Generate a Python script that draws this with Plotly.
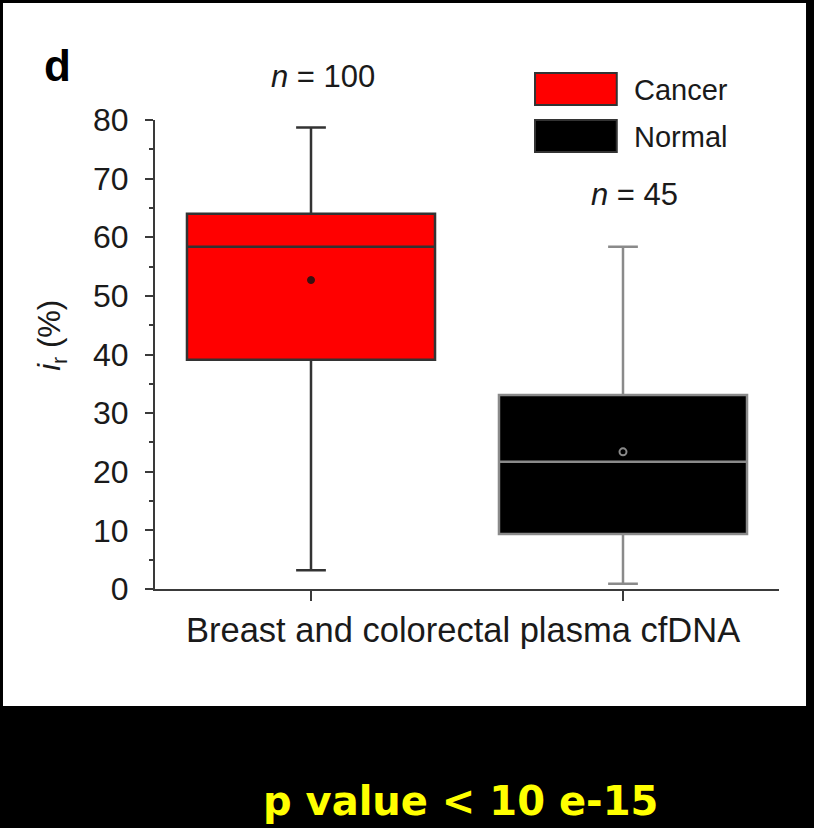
import plotly.graph_objects as go

# ---- data ----
groups = ["Cancer", "Normal"]
positions = [0, 1]
lower_whisker = [3.2, 0.9]
q1_vals = [39.1, 9.4]
median_vals = [58.4, 21.7]
q3_vals = [64.0, 33.1]
upper_whisker = [78.7, 58.4]
mean_vals = [52.7, 23.4]
n_labels = ["<i>n</i> = 100", "<i>n</i> = 45"]
n_label_x = [0.269, 0.769]   # paper positions of the n labels
n_label_y = [1.092, 0.842]
fill_colors = ["#ff0000", "#000000"]
line_colors = ["#333333", "#8a8a8a"]
y_ticks = [0, 10, 20, 30, 40, 50, 60, 70, 80]

FONT = "Liberation Sans, Arial, sans-serif"

fig = go.Figure()

for i, g in enumerate(groups):
    fig.add_trace(go.Box(
        name=g,
        x=[positions[i]],
        q1=[q1_vals[i]],
        median=[median_vals[i]],
        q3=[q3_vals[i]],
        lowerfence=[lower_whisker[i]],
        upperfence=[upper_whisker[i]],
        fillcolor=fill_colors[i],
        line=dict(color=line_colors[i], width=2.5),
        width=0.795,
        whiskerwidth=0.12,
        boxpoints=False,
        showlegend=False,
        hoverinfo="skip",
    ))

fig.add_trace(go.Scatter(
    x=[positions[0]], y=[mean_vals[0]], mode="markers",
    marker=dict(symbol="circle", size=7, color="#3a1010", line=dict(color="#3a1010", width=1)),
    showlegend=False, hoverinfo="skip"))
fig.add_trace(go.Scatter(
    x=[positions[1]], y=[mean_vals[1]], mode="markers",
    marker=dict(symbol="circle-open", size=7, color="#8a8a8a", line=dict(width=2)),
    showlegend=False, hoverinfo="skip"))

annotations = []
for i in range(len(groups)):
    annotations.append(dict(
        x=n_label_x[i], y=n_label_y[i], xref="paper", yref="paper",
        text=n_labels[i], showarrow=False, xanchor="center", yanchor="middle",
        font=dict(family=FONT, size=31, color="#1a1a1a")))

# panel letter
annotations.append(dict(x=-0.181, y=1.117, xref="paper", yref="paper", text="<b>d</b>",
                        showarrow=False, xanchor="left", yanchor="middle",
                        font=dict(family=FONT, size=44, color="#000000")))
# y title
annotations.append(dict(x=-0.165, y=0.54, xref="paper", yref="paper",
                        text="<i>i</i><sub>r</sub> (%)", textangle=-90,
                        showarrow=False, xanchor="center", yanchor="middle",
                        font=dict(family=FONT, size=31, color="#1a1a1a")))
# x title
annotations.append(dict(x=0.493, y=-0.087, xref="paper", yref="paper",
                        text="Breast and colorectal plasma cfDNA",
                        showarrow=False, xanchor="center", yanchor="middle",
                        font=dict(family=FONT, size=34.5, color="#1a1a1a")))
# legend texts
legend_y = [1.064, 0.964]
for i, g in enumerate(groups):
    annotations.append(dict(x=0.764, y=legend_y[i], xref="paper", yref="paper", text=g,
                            showarrow=False, xanchor="left", yanchor="middle",
                            font=dict(family=FONT, size=29, color="#1a1a1a")))
# p value caption
annotations.append(dict(x=0.489, y=-0.452, xref="paper", yref="paper",
                        text="<b>p value &lt; 10 e-15</b>",
                        showarrow=False, xanchor="center", yanchor="middle",
                        font=dict(family="DejaVu Sans, sans-serif", size=40, color="#ffff00")))

shapes = [
    # white panel
    dict(type="rect", xref="paper", yref="paper", x0=-0.2436, x1=1.0433, y0=-0.2495, y1=1.2495,
         fillcolor="white", line=dict(width=0), layer="below"),
]
legend_boxes = [(1.100, 1.032), (1.000, 0.932)]
for i in range(len(groups)):
    shapes.append(dict(type="rect", xref="paper", yref="paper", x0=0.609, x1=0.740,
                       y0=legend_boxes[i][1], y1=legend_boxes[i][0],
                       fillcolor=fill_colors[i], line=dict(color="#333333", width=2)))

fig.update_layout(
    width=814, height=828,
    margin=dict(l=155, r=35, t=120, b=239),
    paper_bgcolor="#000000",
    plot_bgcolor="#ffffff",
    showlegend=False,
    annotations=annotations,
    shapes=shapes,
    xaxis=dict(range=[-0.5, 1.5], tickvals=positions, showticklabels=False,
               ticks="outside", ticklen=10, tickwidth=2, tickcolor="#3a3a3a",
               showline=True, linecolor="#3a3a3a", linewidth=2, showgrid=False,
               zeroline=False, fixedrange=True),
    yaxis=dict(range=[0, 80], tickvals=y_ticks, ticks="outside", ticklen=8, tickwidth=2,
               tickcolor="#3a3a3a", showline=True, linecolor="#3a3a3a", linewidth=2,
               showgrid=False, zeroline=False, ticklabelstandoff=10,
               tickfont=dict(family=FONT, size=32, color="#1a1a1a"),
               minor=dict(dtick=5, tick0=0, ticks="outside", ticklen=4, tickwidth=2,
                          tickcolor="#3a3a3a", showgrid=False),
               fixedrange=True),
)

fig.write_html("out.html")
